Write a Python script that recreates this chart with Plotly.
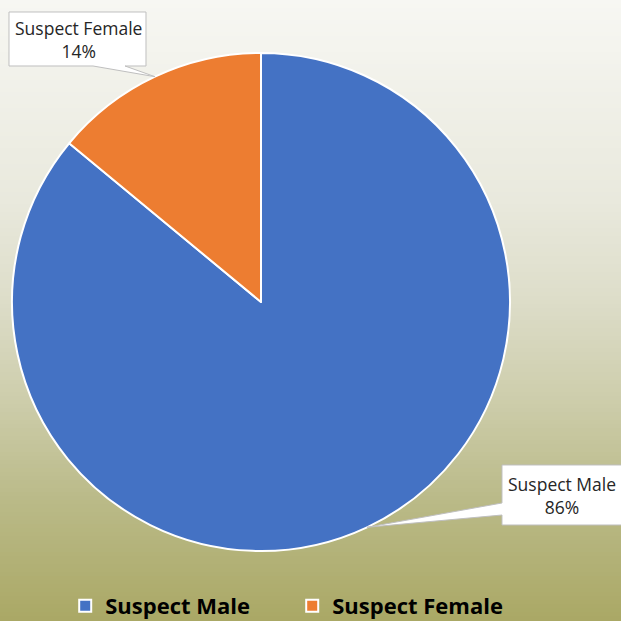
import math
import plotly.graph_objects as go

# data
labels = ["Suspect Male", "Suspect Female"]
values = [86, 14]
colors = ["#4472C4", "#ED7D31"]

W = H = 621
# pie geometry in pixels (centre and radius)
cx, cy, r = 261, 302, 249


def px(x, y):
    # pixel -> paper coords (margins are zero)
    return x / W, 1 - y / H


fig = go.Figure(go.Pie(
    labels=labels,
    values=values,
    sort=False,
    direction="clockwise",
    rotation=0,
    marker=dict(colors=colors, line=dict(color="white", width=2)),
    textinfo="none",
    hoverinfo="label+percent",
    domain=dict(x=[(cx - r) / W, (cx + r) / W],
                y=[1 - (cy + r) / H, 1 - (cy - r) / H]),
))

# background gradient built from thin horizontal bands
stops = [(0, (247, 247, 243)), (200, (233, 233, 221)), (300, (221, 221, 201)),
         (400, (205, 205, 171)), (500, (186, 186, 136)), (621, (170, 168, 101))]


def grad(y):
    for (y0, c0), (y1, c1) in zip(stops, stops[1:]):
        if y <= y1:
            t = (y - y0) / (y1 - y0)
            return "rgb(%d,%d,%d)" % tuple(round(a + (b - a) * t) for a, b in zip(c0, c1))
    return "rgb(%d,%d,%d)" % stops[-1][1]


shapes = []
step = 4
for y in range(0, H, step):
    x0, y0 = px(0, y)
    x1, y1 = px(W, y + step + 1)
    shapes.append(dict(type="rect", xref="paper", yref="paper", layer="below",
                       x0=x0, x1=x1, y0=y1, y1=y0, line=dict(width=0),
                       fillcolor=grad(y + step / 2)))

# callout tips at the middle of each slice's arc
total = sum(values)
tips = []
start = 0
for v in values:
    mid = (start + v / 2) / total * 2 * math.pi
    tips.append((cx + r * math.sin(mid), cy - r * math.cos(mid)))
    start += v

# callout boxes: (left, top, right, bottom), wedge base points
boxes = [
    dict(box=(502, 465, 625, 525), base=[(502, 503), (502, 515)], text_x=562),
    dict(box=(9, 12, 146, 66), base=[(93, 66), (125, 66)], text_x=78),
]


def path_for(b, tip):
    l, t, rr, bt = b["box"]
    (ax, ay), (bx, by) = b["base"]
    if ax == l:  # wedge on the left side
        pts = [(l, t), (rr, t), (rr, bt), (l, bt), (bx, by), tip, (ax, ay)]
    else:  # wedge on the bottom
        pts = [(l, t), (rr, t), (rr, bt), (bx, by), tip, (ax, ay), (l, bt)]
    s = ""
    for i, (x, y) in enumerate(pts):
        X, Y = px(x, y)
        s += ("M" if i == 0 else "L") + "%.5f,%.5f " % (X, Y)
    return s + "Z"


annotations = []
for lab, v, b, tip in zip(labels, values, boxes, tips):
    shapes.append(dict(type="path", xref="paper", yref="paper", layer="above",
                       path=path_for(b, tip), fillcolor="white",
                       line=dict(color="#BFBFBF", width=1)))
    l, t, rr, bt = b["box"]
    X, Y = px(b["text_x"], (t + bt) / 2)
    annotations.append(dict(xref="paper", yref="paper", x=X, y=Y,
                            xanchor="center", yanchor="middle",
                            text="%s<br>%d%%" % (lab, round(v / total * 100)),
                            showarrow=False, align="center",
                            font=dict(family="Open Sans", size=17.5, color="#262626")))

fig.update_layout(
    width=W, height=H,
    margin=dict(l=0, r=0, t=0, b=0, autoexpand=False),
    paper_bgcolor="#F7F7F3",
    plot_bgcolor="rgba(0,0,0,0)",
    shapes=shapes,
    annotations=annotations,
    showlegend=True,
    legend=dict(orientation="h", x=0.105, xanchor="left", y=1 - 585 / H, yanchor="top",
                bgcolor="rgba(0,0,0,0)", entrywidth=182, entrywidthmode="pixels",
                font=dict(family="Open Sans", size=22, color="black", weight="bold")),
)

fig.write_html("out.html", config={"displayModeBar": False},
               post_script="document.body.style.margin='0px';")
